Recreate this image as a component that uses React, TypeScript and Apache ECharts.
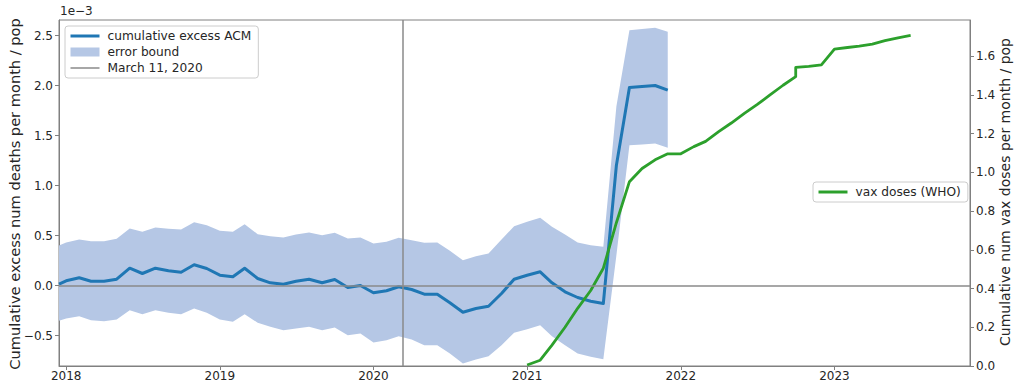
import React, { useEffect, useRef } from "react";
import * as echarts from "echarts";

// ---------- data ----------
function monthSeq(startYear: number, startMonth: number, count: number): string[] {
  const out: string[] = [];
  for (let k = 0; k < count; k++) {
    const m = startMonth - 1 + k;
    const y = startYear + Math.floor(m / 12);
    const mm = (m % 12) + 1;
    out.push(`${y}-${mm < 10 ? "0" + mm : mm}-01`);
  }
  return out;
}

const ACM_DATES: string[] = ["2017-12-15", ...monthSeq(2018, 1, 48)];

const ACM_VALUES: number[] = [
  0.013,
  0.047, 0.077, 0.043, 0.043, 0.063, 0.173, 0.12, 0.173, 0.147, 0.133, 0.207, 0.17,
  0.103, 0.087, 0.173, 0.07, 0.027, 0.013, 0.043, 0.063, 0.027, 0.06, -0.02, 0.0,
  -0.073, -0.053, -0.013, -0.04, -0.087, -0.087, -0.173, -0.267, -0.23, -0.207, -0.08, 0.063,
  0.103, 0.137, 0.027, -0.063, -0.12, -0.157, -0.18, 1.2, 1.98, 1.99, 2.0, 1.953,
];

const BAND_UPPER: number[] = [
  0.4,
  0.43, 0.46, 0.443, 0.443, 0.467, 0.57, 0.537, 0.58, 0.567, 0.56, 0.633, 0.603,
  0.547, 0.537, 0.613, 0.513, 0.493, 0.48, 0.51, 0.53, 0.503, 0.527, 0.47, 0.48,
  0.42, 0.437, 0.477, 0.453, 0.427, 0.43, 0.347, 0.253, 0.293, 0.32, 0.46, 0.593,
  0.637, 0.677, 0.587, 0.51, 0.43, 0.403, 0.387, 1.79, 2.553, 2.565, 2.577, 2.537,
];

const BAND_LOWER: number[] = [
  -0.353,
  -0.33, -0.307, -0.347, -0.357, -0.34, -0.247, -0.287, -0.247, -0.273, -0.287, -0.23, -0.273,
  -0.34, -0.363, -0.287, -0.373, -0.413, -0.447, -0.43, -0.413, -0.447, -0.42, -0.497, -0.48,
  -0.57, -0.547, -0.507, -0.54, -0.597, -0.597, -0.68, -0.78, -0.74, -0.707, -0.597, -0.473,
  -0.437, -0.397, -0.507, -0.597, -0.68, -0.713, -0.737, 0.3, 1.403, 1.41, 1.42, 1.377,
];

const VAX_DATES: string[] = [
  "2021-01-01", "2021-02-01", "2021-03-01", "2021-04-01", "2021-05-01", "2021-06-01",
  "2021-07-01", "2021-08-01", "2021-09-01", "2021-10-01", "2021-11-01", "2021-12-01",
  "2022-01-01", "2022-02-01", "2022-03-01", "2022-04-01", "2022-05-01", "2022-06-01",
  "2022-07-01", "2022-08-01", "2022-09-01", "2022-10-01", "2022-10-01", "2022-11-01",
  "2022-12-01", "2023-01-01", "2023-02-01", "2023-03-01", "2023-04-01", "2023-05-01",
  "2023-06-01", "2023-07-01",
];

const VAX_VALUES: number[] = [
  0.005, 0.03, 0.108, 0.2, 0.298, 0.39, 0.505, 0.74, 0.952, 1.02, 1.065, 1.096,
  1.096, 1.133, 1.16, 1.21, 1.255, 1.305, 1.35, 1.4, 1.45, 1.495, 1.542, 1.547,
  1.555, 1.637, 1.645, 1.652, 1.662, 1.68, 1.695, 1.707,
];

const X_TICK_YEARS: number[] = [2018, 2019, 2020, 2021, 2022, 2023];
const X_MIN_DATE = "2017-12-15";
const X_MAX_DATE = "2023-11-19";
const LEFT_TICKS: number[] = [-0.5, 0.0, 0.5, 1.0, 1.5, 2.0, 2.5];
const RIGHT_TICKS: number[] = [0.0, 0.2, 0.4, 0.6, 0.8, 1.0, 1.2, 1.4, 1.6];
const MARCH_11 = "2020-03-11";

const SERIES_ACM = "cumulative excess ACM";
const SERIES_BAND = "error bound";
const SERIES_MARCH = "March 11, 2020";
const SERIES_VAX = "vax doses (WHO)";

// ---------- style ----------
const FONT = "DejaVu Sans";
const TEXT = "#262626";
const SPINE = "#808080";
const BLUE = "#1f77b4";
const GREEN = "#2ca02c";
const BAND_COLOR = "#b5c7e5";
const GRAY_LINE = "#8a8a8a";

// date string -> fractional year (for a numeric x axis)
const fy = (s: string) => {
  const t = Date.parse(s);
  const y = new Date(t).getUTCFullYear();
  const a = Date.UTC(y, 0, 1);
  const b = Date.UTC(y + 1, 0, 1);
  return y + (t - a) / (b - a);
};
const fmtNum = (v: number) => v.toFixed(1).replace("-", "\u2212");

export default function App() {
  const ref = useRef<HTMLDivElement>(null);

  useEffect(() => {
    if (!ref.current) return;
    const chart = echarts.init(ref.current, null, { renderer: "svg" });

    const acmData = ACM_DATES.map((d, i) => [fy(d), ACM_VALUES[i]]);
    const bandData = ACM_DATES.map((d, i) => [fy(d), BAND_LOWER[i], BAND_UPPER[i]]);
    const vaxData = VAX_DATES.map((d, i) => [fy(d), VAX_VALUES[i]]);

    const legendCommon = {
      orient: "vertical",
      itemWidth: 29,
      itemHeight: 9,
      itemGap: 4,
      padding: [4, 7, 4, 4],
      backgroundColor: "rgba(255,255,255,0.85)",
      borderColor: "#cccccc",
      borderWidth: 1,
      borderRadius: 3,
      selectedMode: false,
      textStyle: { fontSize: 12.2, color: TEXT, fontFamily: FONT, padding: [0, 0, 0, 3] },
    };

    const noSymbol = { opacity: 0, borderWidth: 0 };

    const option: any = {
      animation: false,
      backgroundColor: "#ffffff",
      textStyle: { fontFamily: FONT },
      grid: {
        left: 59,
        right: 54,
        top: 20,
        bottom: 26,
        show: true,
        borderColor: SPINE,
        borderWidth: 1,
        backgroundColor: "transparent",
      },
      legend: [
        {
          ...legendCommon,
          left: 65,
          top: 26,
          data: [
            { name: SERIES_ACM, itemStyle: noSymbol, lineStyle: { color: BLUE, width: 3 } },
            { name: SERIES_BAND, icon: "rect", itemStyle: { color: BAND_COLOR } },
            { name: SERIES_MARCH, itemStyle: noSymbol, lineStyle: { color: GRAY_LINE, width: 1.5 } },
          ],
        },
        {
          ...legendCommon,
          left: 813,
          top: 182,
          data: [{ name: SERIES_VAX, itemStyle: noSymbol, lineStyle: { color: GREEN, width: 3 } }],
        },
      ],
      xAxis: {
        type: "value",
        min: fy(X_MIN_DATE),
        max: fy(X_MAX_DATE),
        axisLine: { show: true, onZero: false, lineStyle: { color: SPINE, width: 1 } },
        axisTick: {
          show: true,
          length: 4,
          lineStyle: { color: SPINE },
          customValues: X_TICK_YEARS,
        },
        axisLabel: {
          customValues: X_TICK_YEARS,
          formatter: (v: number) => String(Math.round(v)),
          color: TEXT,
          fontSize: 12,
          fontFamily: FONT,
          margin: 4,
        },
        splitLine: { show: false },
      },
      yAxis: [
        {
          type: "value",
          position: "left",
          min: -0.805,
          max: 2.655,
          axisLine: { show: true, lineStyle: { color: SPINE, width: 1 } },
          axisTick: { show: true, length: 4, lineStyle: { color: SPINE }, customValues: LEFT_TICKS },
          axisLabel: {
            customValues: LEFT_TICKS,
            formatter: (v: number) => fmtNum(v),
            color: TEXT,
            fontSize: 12,
            fontFamily: FONT,
            margin: 6,
          },
          splitLine: { show: false },
        },
        {
          type: "value",
          position: "right",
          min: 0,
          max: 1.787,
          axisLine: { show: true, lineStyle: { color: SPINE, width: 1 } },
          axisTick: { show: true, length: 4, lineStyle: { color: SPINE }, customValues: RIGHT_TICKS },
          axisLabel: {
            customValues: RIGHT_TICKS,
            formatter: (v: number) => fmtNum(v),
            color: TEXT,
            fontSize: 12,
            fontFamily: FONT,
            margin: 6,
          },
          splitLine: { show: false },
        },
      ],
      graphic: [
        {
          type: "text",
          x: 14,
          y: 194,
          rotation: Math.PI / 2,
          style: {
            text: "Cumulative excess num deaths per month / pop",
            fill: TEXT,
            fontSize: 14.6,
            fontFamily: FONT,
            textAlign: "center",
            textVerticalAlign: "middle",
          },
        },
        {
          type: "text",
          x: 1005,
          y: 192,
          rotation: Math.PI / 2,
          style: {
            text: "Cumulative num vax doses per month / pop",
            fill: TEXT,
            fontSize: 14,
            fontFamily: FONT,
            textAlign: "center",
            textVerticalAlign: "middle",
          },
        },
        {
          type: "text",
          x: 60,
          y: 5,
          style: {
            text: "1e\u22123",
            fill: TEXT,
            fontSize: 12,
            fontFamily: FONT,
          },
        },
      ],
      series: [
        {
          name: SERIES_BAND,
          type: "custom",
          xAxisIndex: 0,
          yAxisIndex: 0,
          itemStyle: { color: BAND_COLOR },
          encode: { x: 0, y: [1, 2] },
          data: bandData,
          z: 1,
          silent: true,
          renderItem: (params: any, api: any) => {
            if (params.dataIndex !== 0) return null;
            const pts: number[][] = [];
            for (let i = 0; i < bandData.length; i++) {
              pts.push(api.coord([bandData[i][0], bandData[i][2]]));
            }
            for (let i = bandData.length - 1; i >= 0; i--) {
              pts.push(api.coord([bandData[i][0], bandData[i][1]]));
            }
            return {
              type: "polygon",
              shape: { points: pts },
              style: { fill: BAND_COLOR },
            };
          },
        },
        {
          name: SERIES_MARCH,
          type: "line",
          xAxisIndex: 0,
          yAxisIndex: 0,
          data: [],
          symbol: "none",
          lineStyle: { color: GRAY_LINE, width: 1.5 },
          itemStyle: { color: GRAY_LINE },
          z: 2,
          markLine: {
            silent: true,
            symbol: ["none", "none"],
            label: { show: false },
            lineStyle: { color: GRAY_LINE, width: 1.5, type: "solid" },
            data: [{ xAxis: fy(MARCH_11) }, { yAxis: 0 }],
          },
        },
        {
          name: SERIES_ACM,
          type: "line",
          xAxisIndex: 0,
          yAxisIndex: 0,
          data: acmData,
          symbol: "none",
          showSymbol: false,
          lineStyle: { color: BLUE, width: 3, join: "round" },
          itemStyle: { color: BLUE },
          z: 3,
        },
        {
          name: SERIES_VAX,
          type: "line",
          xAxisIndex: 0,
          yAxisIndex: 1,
          data: vaxData,
          symbol: "none",
          showSymbol: false,
          lineStyle: { color: GREEN, width: 2.8, join: "round" },
          itemStyle: { color: GREEN },
          z: 3,
        },
      ],
    };

    chart.setOption(option);
    return () => chart.dispose();
  }, []);

  return (
    <div
      ref={ref}
      style={{ position: "fixed", left: 0, top: 0, width: 1024, height: 392, background: "#fff" }}
    />
  );
}
